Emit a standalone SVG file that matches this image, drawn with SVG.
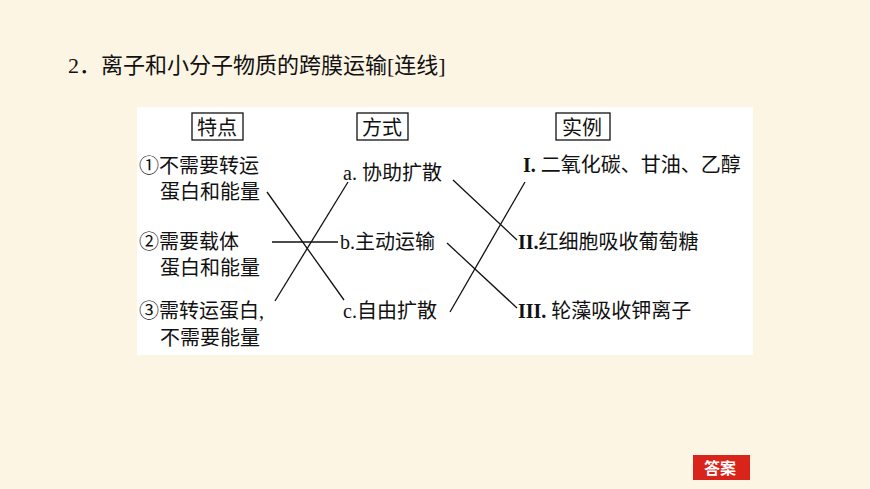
<svg xmlns="http://www.w3.org/2000/svg" width="870" height="489" viewBox="0 0 870 489">
<style>
text{font-family:"Liberation Serif","Noto Sans CJK SC",serif;font-size:20px;fill:#111}
.t{font-size:22px}
.b{font-weight:bold}
.ln{stroke:#111;stroke-width:1.3;fill:none}
.bx{fill:none;stroke:#111;stroke-width:1.3}
</style>
<rect width="870" height="489" fill="#FCF5E4"/>
<text class="t" x="68" y="73">2．离子和小分子物质的跨膜运输[连线]</text>
<rect x="137" y="107" width="616" height="248" fill="#fff"/>
<g id="h1"><rect class="bx" x="192" y="113" width="51" height="27"/><text x="197" y="135">特点</text></g>
<g id="h2"><rect class="bx" x="357" y="113" width="51" height="27"/><text x="362" y="135">方式</text></g>
<g id="h3"><rect class="bx" x="556" y="113" width="54" height="27"/><text x="562" y="135">实例</text></g>
<g id="f1"><text x="139" y="173">①不需要转运</text><text x="160" y="199">蛋白和能量</text></g>
<g id="f2"><text x="139" y="249">②需要载体</text><text x="160" y="275">蛋白和能量</text></g>
<g id="f3"><text x="139" y="318">③需转运蛋白,</text><text x="160" y="345">不需要能量</text></g>
<g id="ma"><text x="343" y="180">a. 协助扩散</text></g>
<g id="mb"><text x="340" y="249">b.主动运输</text></g>
<g id="mc"><text x="343" y="318">c.自由扩散</text></g>
<g id="e1"><text x="523" y="172"><tspan class="b">I.</tspan> 二氧化碳、甘油、乙醇</text></g>
<g id="e2"><text x="518" y="249"><tspan class="b">II.</tspan>红细胞吸收葡萄糖</text></g>
<g id="e3"><text x="518" y="318"><tspan class="b">III.</tspan> 轮藻吸收钾离子</text></g>
<g id="connectors">
<line class="ln" x1="267" y1="192" x2="344" y2="300"/>
<line class="ln" x1="272" y1="242" x2="338" y2="242"/>
<line class="ln" x1="275" y1="301" x2="348" y2="182"/>
<line class="ln" x1="453" y1="180" x2="517" y2="240"/>
<line class="ln" x1="447" y1="243" x2="517" y2="308"/>
<line class="ln" x1="450" y1="312" x2="525" y2="182"/>
</g>
<g id="answer"><rect x="693" y="455" width="57" height="25" fill="#D9241C"/><text x="704" y="474" style="fill:#fff;font-weight:bold;font-size:16px;font-family:'Noto Sans CJK SC',sans-serif">答案</text></g>
</svg>
